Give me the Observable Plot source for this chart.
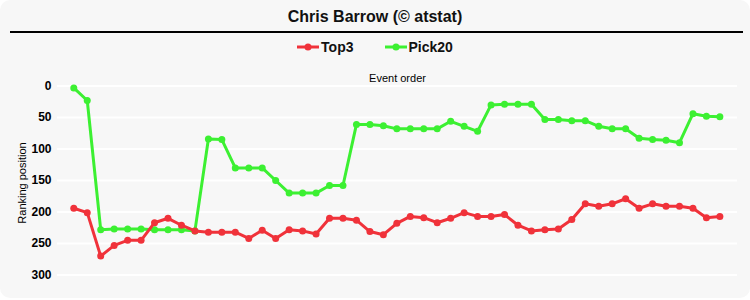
<!DOCTYPE html>
<html><head><meta charset="utf-8">
<script src="https://cdn.jsdelivr.net/npm/d3@7"></script>
<script src="https://cdn.jsdelivr.net/npm/@observablehq/plot@0.6"></script>
<style>
body{margin:0;background:#fff;font-family:"Liberation Sans",Arial,sans-serif;}
#wrap{width:750px;height:298px;background:#f7f7f7;border-radius:10px;position:relative;overflow:hidden;}
#title{height:31px;line-height:34px;text-align:center;font-weight:bold;font-size:16px;color:#111;}
#rule{margin:0 7px 0 10px;border-top:2px solid #000;height:0;}
#legend{height:28px;display:flex;justify-content:center;align-items:center;font-weight:bold;font-size:14px;color:#111;}
.item{display:flex;align-items:center;}
.item svg{margin-right:2px;}
#chart svg{display:block;}
</style>
</head><body>
<div id="wrap">
  <div id="title">Chris Barrow (© atstat)</div>
  <div id="rule"></div>
  <div id="legend"></div>
  <div id="chart"></div>
</div>
<script>
const seriesNames = ["Top3", "Pick20"];
const seriesColors = ["#f0323a", "#3cf032"];
const top3 = [194, 201, 270, 253, 245, 245, 217, 210, 221, 230, 232, 232, 232, 242, 229, 242, 228, 230, 235, 210, 210, 213, 231, 236, 218, 207, 209, 217, 210, 201, 207, 207, 204, 221, 230, 228, 227, 212, 187, 191, 187, 179, 194, 187, 191, 191, 194, 209, 207];
const pick20 = [3, 23, 228, 227, 227, 227, 228, 228, 228, 230, 84, 85, 130, 130, 130, 150, 170, 170, 170, 158, 158, 61, 61, 63, 68, 68, 68, 68, 56, 64, 72, 30, 29, 29, 29, 53, 53, 55, 55, 64, 68, 68, 83, 85, 86, 90, 44, 48, 49];
const yTicks = [0, 50, 100, 150, 200, 250, 300];
const xLabel = "Event order";
const yLabel = "Ranking position";

// legend
const legend = document.getElementById("legend");
seriesNames.forEach((name, i) => {
  const item = document.createElement("div");
  item.className = "item";
  if (i > 0) item.style.marginLeft = "31px";
  item.innerHTML = `<svg width="22" height="10"><line x1="0" y1="5" x2="22" y2="5" stroke="${seriesColors[i]}" stroke-width="3"/><circle cx="11" cy="5" r="3.5" fill="${seriesColors[i]}"/></svg><span>${name}</span>`;
  legend.appendChild(item);
});

const rows = [];
top3.forEach((v, i) => rows.push({series: "Top3", idx: i, rank: v}));
pick20.forEach((v, i) => rows.push({series: "Pick20", idx: i, rank: v}));
const green = rows.filter(d => d.series === "Pick20");
const red = rows.filter(d => d.series === "Top3");

const chart = Plot.plot({
  width: 750,
  height: 239,
  marginLeft: 57,
  marginRight: 13,
  marginTop: 24.5,
  marginBottom: 25.5,
  style: {background: "transparent", fontFamily: "'Liberation Sans', Arial, sans-serif", fontSize: "12px", color: "#000"},
  x: {domain: [-1.21, 49.31], axis: null},
  y: {domain: [0, 300], reverse: true},
  marks: [
    Plot.gridY(yTicks, {stroke: "#ffffff", strokeOpacity: 1, strokeWidth: 2}),
    Plot.axisY(yTicks, {tickSize: 0, tickPadding: 6, fontWeight: "bold", label: null}),
    Plot.text([xLabel], {frameAnchor: "top", dy: -12, fontSize: 11, fill: "#000"}),
    Plot.text([yLabel], {frameAnchor: "left", textAnchor: "middle", dx: -35, dy: 2.5, rotate: -90, fontSize: 11, fill: "#000"}),
    Plot.line(green, {x: "idx", y: "rank", stroke: seriesColors[1], strokeWidth: 3}),
    Plot.dot(green, {x: "idx", y: "rank", fill: seriesColors[1], r: 3.5}),
    Plot.line(red, {x: "idx", y: "rank", stroke: seriesColors[0], strokeWidth: 3}),
    Plot.dot(red, {x: "idx", y: "rank", fill: seriesColors[0], r: 3.5})
  ]
});
document.getElementById("chart").appendChild(chart);
</script>
</body></html>
